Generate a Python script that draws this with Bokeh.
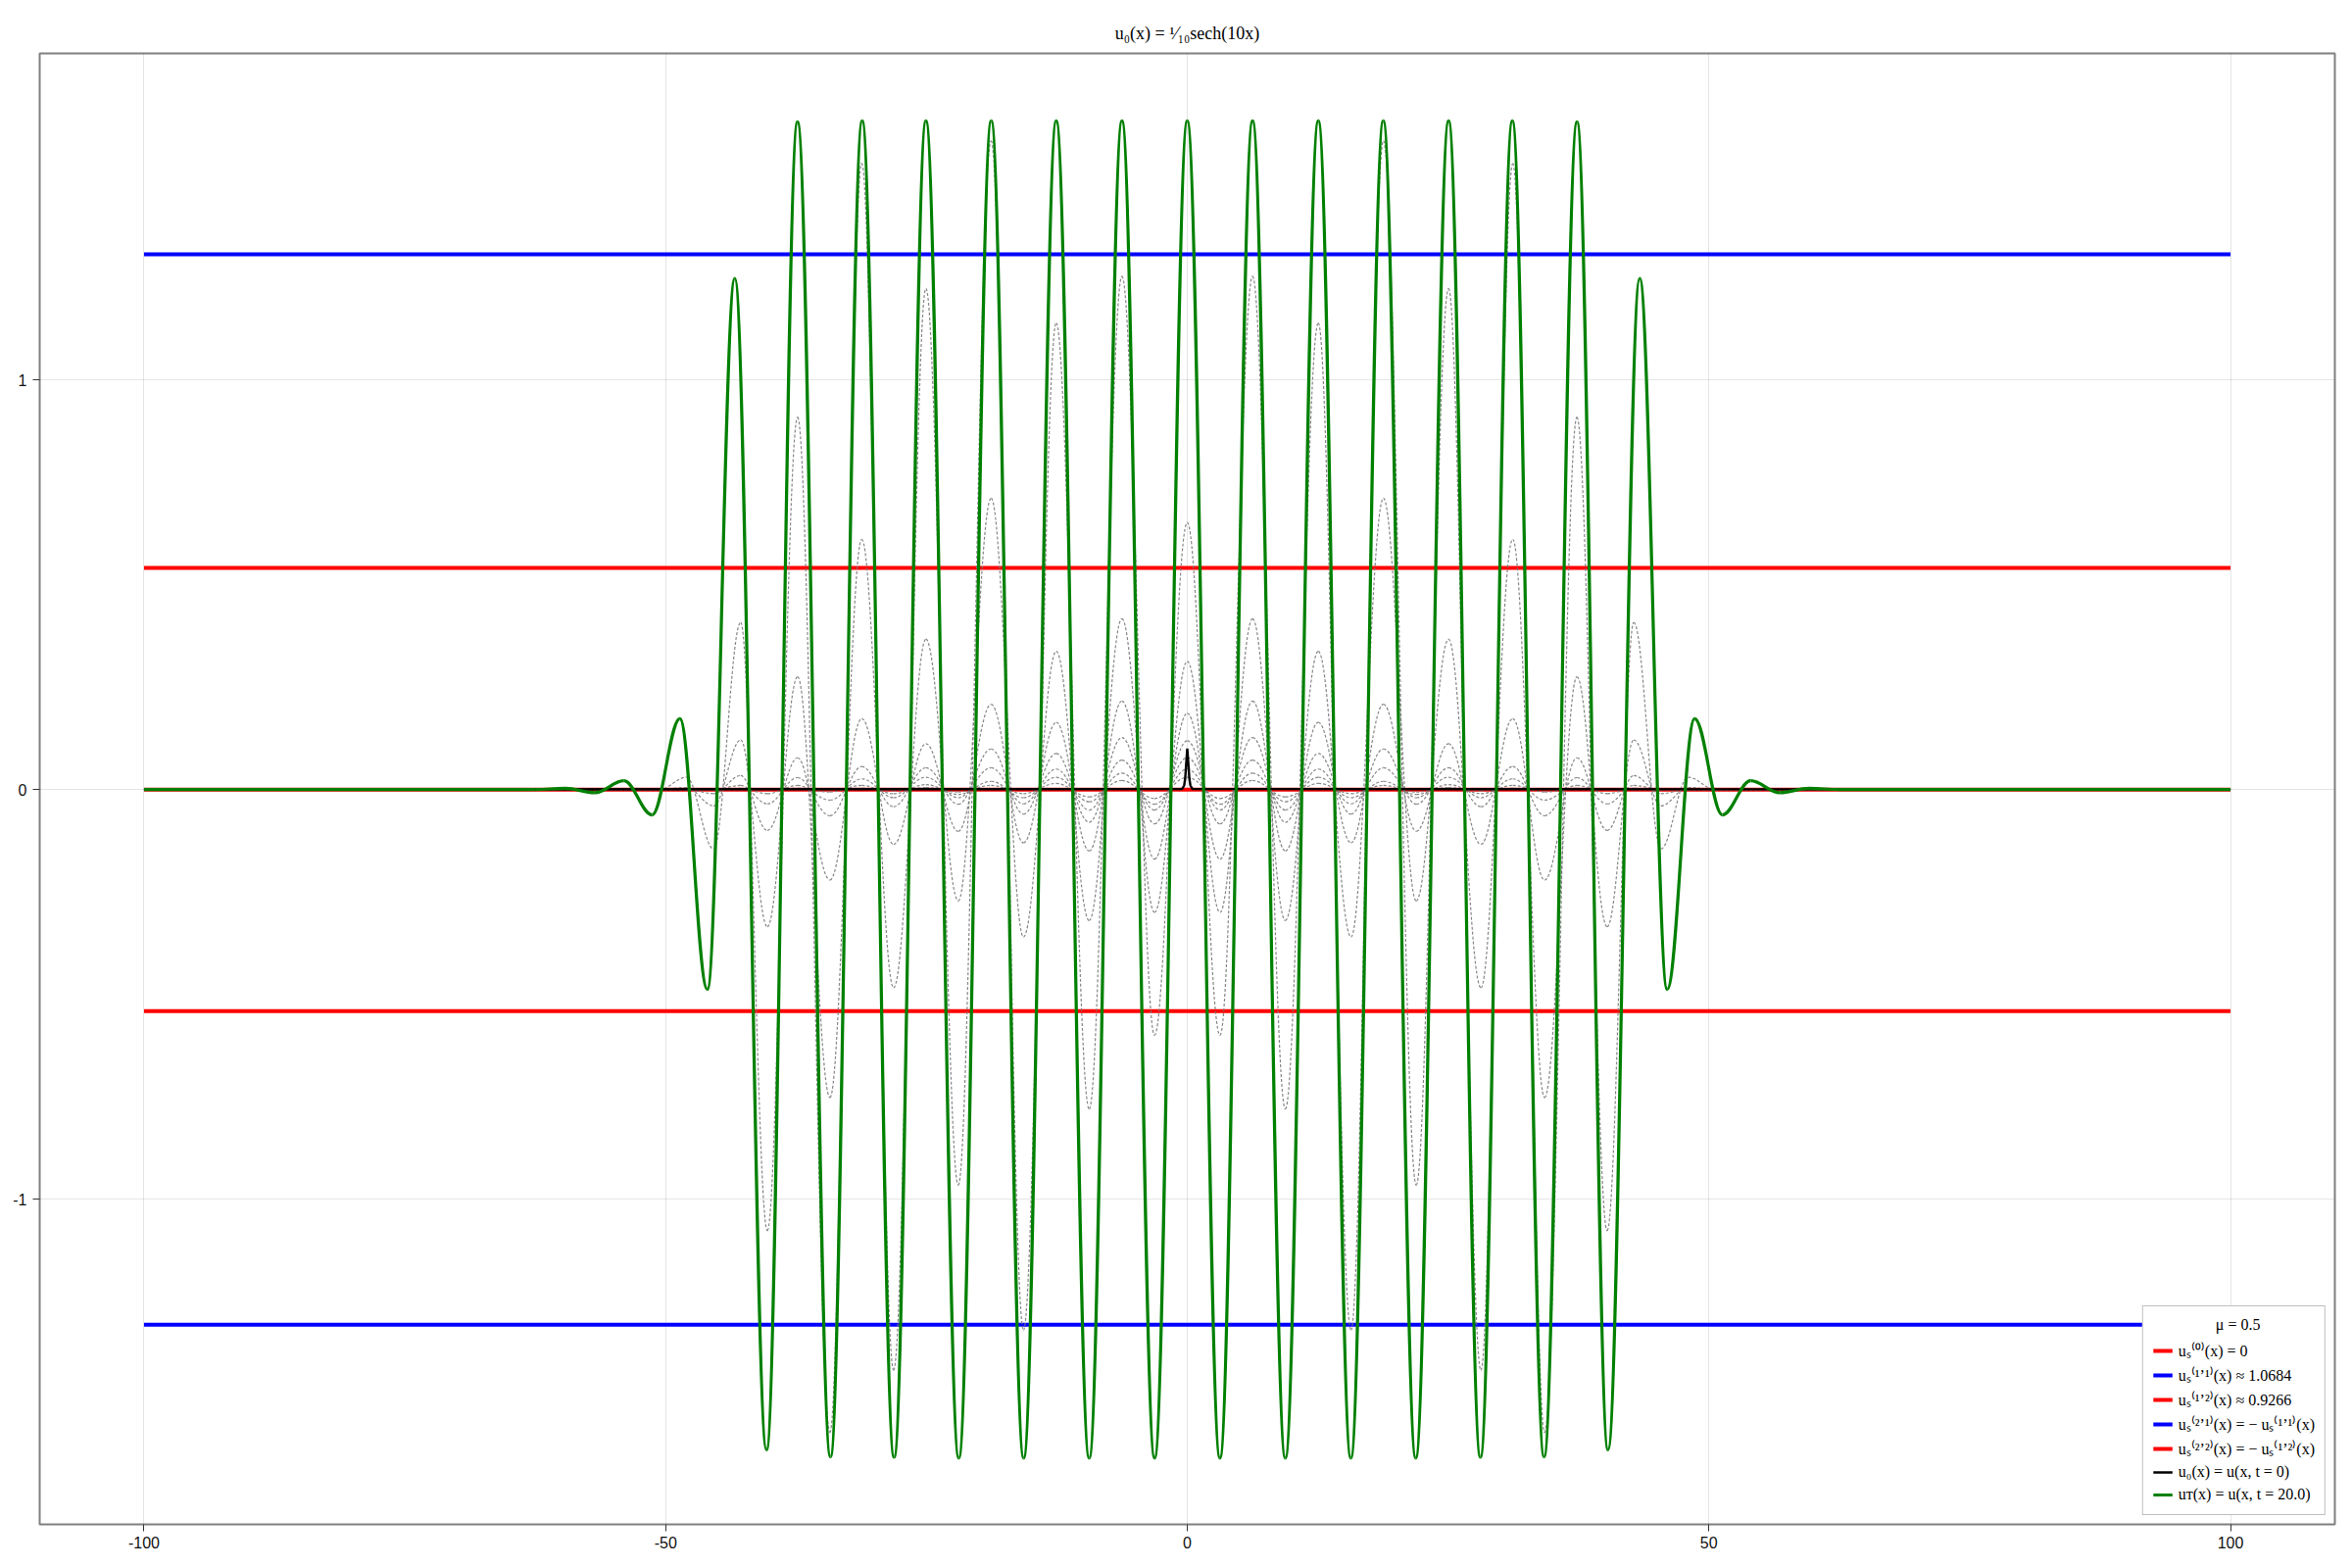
import numpy as np
from bokeh.plotting import figure
from bokeh.models import Range1d, FixedTicker, Legend, LegendItem
from bokeh.embed import file_html
from bokeh.resources import INLINE

# ---------------- data ----------------
x_ticks = [-100, -50, 0, 50, 100]
x_tick_labels = ["-100", "-50", "0", "50", "100"]
y_ticks = [-1, 0, 1]
y_tick_labels = ["-1", "0", "1"]

domain = [-100.0, 100.0]

title_text = "u\u2080(x) = \u00b9\u2044\u2081\u2080sech(10x)"
legend_title = "\u03bc = 0.5"

stationary_values = [0.0, 1.3066, 0.5412, -1.3066, -0.5412]
stationary_colors = ["#ff0000", "#0000ff", "#ff0000", "#0000ff", "#ff0000"]
stationary_labels = [
    "u\u209b\u207d\u2070\u207e(x) = 0",
    "u\u209b\u207d\u00b9\u02bc\u00b9\u207e(x) \u2248 1.0684",
    "u\u209b\u207d\u00b9\u02bc\u00b2\u207e(x) \u2248 0.9266",
    "u\u209b\u207d\u00b2\u02bc\u00b9\u207e(x) = \u2212 u\u209b\u207d\u00b9\u02bc\u00b9\u207e(x)",
    "u\u209b\u207d\u00b2\u02bc\u00b2\u207e(x) = \u2212 u\u209b\u207d\u00b9\u02bc\u00b2\u207e(x)",
]
u0_label = "u\u2080(x) = u(x, t = 0)"
uT_label = "u\u1d1b(x) = u(x, t = 20.0)"

u0_x = [-100, -0.5, -0.3, -0.2, -0.1, 0.0, 0.1, 0.2, 0.3, 0.5, 100]
u0_y = [0.0, 0.0013, 0.0099, 0.0266, 0.0648, 0.1, 0.0648, 0.0266, 0.0099, 0.0013, 0.0]

# final state u_T: extrema for x >= 0 (the curve is symmetric about x = 0)
uT_ext_x = [0.0, 3.13, 6.26, 9.40, 12.56, 15.68, 18.79, 21.90, 25.05, 28.10,
            31.16, 34.20, 37.36, 40.33, 43.37, 46.00, 48.63, 51.30, 54.00,
            56.80, 59.60, 62.50]
uT_ext_y = [1.632, -1.632, 1.632, -1.632, 1.632, -1.632, 1.632, -1.632, 1.632,
            -1.630, 1.632, -1.629, 1.630, -1.612, 1.248, -0.488, 0.173, -0.062,
            0.0215, -0.008, 0.003, 0.0]

# intermediate snapshots (grey dotted): extrema for x >= 0
snap_ext_x = [0.0, 3.14, 6.26, 9.40, 12.56, 15.70, 18.80, 21.95, 25.05, 28.15,
              31.20, 34.25, 37.35, 40.25, 42.80, 45.40, 48.00, 50.60]
snap_1 = [0.652, -0.60, 1.253, -0.78, 1.139, -1.32, 1.584, -0.966, 1.223, -1.418,
          1.529, -1.570, 0.909, -1.077, 0.408, -0.145, 0.030, 0.0]
snap_2 = [0.313, -0.30, 0.417, -0.32, 0.3375, -0.36, 0.711, -0.272, 0.367, -0.484,
          0.611, -0.752, 0.275, -0.335, 0.121, -0.040, 0.005, 0.0]
snap_3 = [0.186, -0.17, 0.216, -0.15, 0.164, -0.13, 0.208, -0.102, 0.112, -0.134,
          0.173, -0.221, 0.0775, -0.100, 0.034, -0.010, 0.0, 0.0]
snap_4 = [0.119, -0.084, 0.127, -0.080, 0.088, -0.060, 0.099, -0.036, 0.053, -0.042,
          0.056, -0.064, 0.029, -0.035, 0.010, 0.0, 0.0, 0.0]
snap_5 = [0.078, -0.050, 0.072, -0.050, 0.050, -0.035, 0.053, -0.020, 0.030, -0.020,
          0.026, -0.026, 0.010, -0.010, 0.003, 0.0, 0.0, 0.0]
snap_6 = [0.050, -0.036, 0.040, -0.030, 0.030, -0.020, 0.020, -0.012, 0.012, -0.010,
          0.010, -0.006, 0.003, 0.0, 0.0, 0.0, 0.0, 0.0]
snap_7 = [0.030, -0.022, 0.022, -0.018, 0.015, -0.010, 0.010, -0.006, 0.005, -0.003,
          0.003, 0.0, 0.0, 0.0, 0.0, 0.0, 0.0, 0.0]
snapshots = [snap_1, snap_2, snap_3, snap_4, snap_5, snap_6, snap_7]


# ---------------- helpers ----------------
def mirror(xs, ys):
    xs = np.asarray(xs, dtype=float)
    ys = np.asarray(ys, dtype=float)
    fx = np.concatenate([[domain[0]], -xs[:0:-1], xs, [domain[1]]])
    fy = np.concatenate([[0.0], ys[:0:-1], ys, [0.0]])
    return fx, fy


def bezier_data(xs, ys, c=0.3634):
    x0, x1 = xs[:-1], xs[1:]
    y0, y1 = ys[:-1], ys[1:]
    dx = x1 - x0
    return dict(x0=x0, y0=y0, x1=x1, y1=y1,
                cx0=x0 + c * dx, cy0=y0, cx1=x1 - c * dx, cy1=y1)


# ---------------- figure ----------------
p = figure(width=2392, height=1592, output_backend="svg", toolbar_location=None,
           x_range=Range1d(-110, 110), y_range=Range1d(-1.794, 1.797),
           min_border_left=40, min_border_right=10, min_border_top=54,
           min_border_bottom=37)

p.title.text = title_text
p.title.align = "center"
p.title.text_font = "Liberation Serif"
p.title.text_font_size = "18px"
p.title.text_font_style = "normal"
p.title.text_color = "black"
p.title.standoff = 22

p.outline_line_color = "#808080"
p.outline_line_width = 2
p.background_fill_color = "white"
p.border_fill_color = "white"

for ax in (p.xaxis[0], p.yaxis[0]):
    ax.axis_line_color = None
    ax.major_tick_line_color = "#333333"
    ax.major_tick_line_width = 1
    ax.major_tick_out = 7
    ax.major_tick_in = 0
    ax.minor_tick_line_color = None
    ax.major_label_text_font = "Liberation Sans"
    ax.major_label_text_font_size = "16px"
    ax.major_label_text_color = "#111111"

p.xaxis[0].ticker = FixedTicker(ticks=x_ticks)
p.xaxis[0].major_label_overrides = dict(zip(x_ticks, x_tick_labels))
p.xaxis[0].major_label_standoff = 5
p.yaxis[0].ticker = FixedTicker(ticks=y_ticks)
p.yaxis[0].major_label_overrides = dict(zip(y_ticks, y_tick_labels))
p.yaxis[0].major_label_standoff = 6

for g in (p.xgrid[0], p.ygrid[0]):
    g.grid_line_color = "#000000"
    g.grid_line_alpha = 0.1
    g.grid_line_width = 1

items = []
# stationary solutions
for val, col, lab in zip(stationary_values, stationary_colors, stationary_labels):
    r = p.line(x=domain, y=[val, val], line_color=col, line_width=4)
    items.append(LegendItem(label=lab, renderers=[r]))

# intermediate snapshots
for snap in snapshots:
    fx, fy = mirror(snap_ext_x, snap)
    p.bezier(**bezier_data(fx, fy), line_color="#7a7a7a", line_width=1.2,
             line_dash="3 2", line_alpha=0.9)

# initial condition
r0 = p.line(x=u0_x, y=u0_y, line_color="black", line_width=2.4)
items.append(LegendItem(label=u0_label, renderers=[r0]))

# final state
gx, gy = mirror(uT_ext_x, uT_ext_y)
rT = p.bezier(**bezier_data(gx, gy), line_color="#008000", line_width=3.2)
items.append(LegendItem(label=uT_label, renderers=[rT]))

legend = Legend(items=items, location="bottom_right",
                title="\u00a0" * 16 + legend_title)
legend.margin = 9
legend.padding = 10
legend.spacing = 3
legend.label_height = 20
legend.glyph_height = 20
legend.glyph_width = 20
legend.label_standoff = 6
legend.label_text_font = "Liberation Serif"
legend.label_text_font_size = "16px"
legend.label_text_color = "black"
legend.title_text_font = "Liberation Serif"
legend.title_text_font_size = "16px"
legend.title_text_font_style = "normal"
legend.title_text_color = "black"
legend.title_standoff = 6
legend.border_line_color = "#808080"
legend.border_line_width = 1.5
legend.background_fill_color = "white"
legend.background_fill_alpha = 1.0
p.add_layout(legend)

open("out.html", "w").write(file_html(p, INLINE))
